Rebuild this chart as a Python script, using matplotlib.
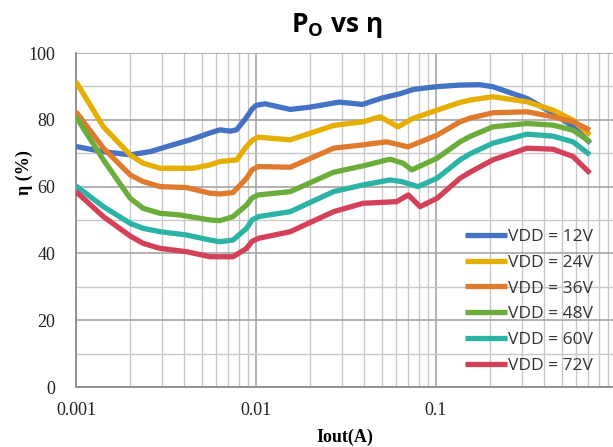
import matplotlib
matplotlib.use("Agg")
import matplotlib.pyplot as plt
from matplotlib.ticker import LogLocator, NullFormatter, MultipleLocator

# values (Iout in A, efficiency in %)
x_12v = [0.001, 0.0014, 0.002, 0.0026, 0.0033, 0.0043, 0.0055, 0.0063, 0.0072, 0.0078, 0.0088,
         0.0095, 0.0100, 0.0112, 0.0155, 0.020, 0.029, 0.039, 0.050, 0.063, 0.075, 0.10, 0.136, 0.175,
         0.207, 0.32, 0.45, 0.58, 0.72]
y_12v = [72, 70.5, 69.5, 70.5, 72.2, 74, 76, 77, 76.6, 77, 80.5, 83.2, 84.3, 84.8, 83.1, 83.8, 85.3,
         84.6, 86.5, 87.8, 89.1, 89.9, 90.4, 90.5, 89.9, 86.4, 81.9, 77.9, 73]

x_24v = [0.001, 0.00142, 0.002, 0.00236, 0.00293, 0.00449, 0.00555, 0.0063, 0.00782, 0.0087, 0.0095,
         0.0103, 0.0155, 0.027, 0.0393, 0.0489, 0.0615, 0.0745, 0.1014, 0.136, 0.1545, 0.207, 0.32,
         0.447, 0.577, 0.717]
y_24v = [91.4, 77.9, 69.5, 67, 65.5, 65.5, 66.5, 67.5, 68, 71.5, 73.8, 74.8, 74, 78.3, 79.4, 80.9,
         77.9, 80.4, 82.9, 85.2, 85.9, 86.9, 85.4, 82.9, 79.9, 75.4]

x_36v = [0.001, 0.00142, 0.002, 0.00236, 0.00293, 0.00412, 0.00555, 0.0063, 0.00745, 0.00887, 0.0095,
         0.0103, 0.0155, 0.027, 0.0393, 0.0532, 0.0699, 0.1014, 0.136, 0.1545, 0.207, 0.32, 0.447,
         0.577, 0.717]
y_36v = [82.4, 71.5, 63.5, 61.5, 60, 59.7, 58, 57.8, 58.2, 62.5, 65, 66, 65.8, 71.5, 72.5, 73.4,
         71.9, 75.4, 79.4, 80.5, 82.1, 82.4, 80.9, 79.4, 76.9]

x_48v = [0.001, 0.00142, 0.002, 0.00236, 0.00293, 0.00378, 0.00555, 0.0063, 0.00745, 0.00887, 0.0095,
         0.0103, 0.0155, 0.027, 0.0393, 0.0555, 0.0656, 0.0733, 0.1014, 0.136, 0.1545, 0.207, 0.32,
         0.447, 0.577, 0.717]
y_48v = [80.9, 68, 56.5, 53.5, 52, 51.5, 50, 49.8, 51, 54.5, 56.6, 57.5, 58.5, 64.3, 66.2, 68.2,
         67, 65, 68.5, 73.4, 75.0, 77.9, 78.9, 78.4, 76.9, 73.4]

x_60v = [0.001, 0.00142, 0.002, 0.00236, 0.00293, 0.00412, 0.00555, 0.0063, 0.00745, 0.00887, 0.0095,
         0.0103, 0.0155, 0.027, 0.0393, 0.0555, 0.0644, 0.0794, 0.1014, 0.136, 0.1545, 0.207, 0.32,
         0.447, 0.577, 0.717]
y_60v = [60.2, 54, 49, 47.5, 46.5, 45.5, 44, 43.5, 44, 47.5, 50, 51, 52.5, 58.5, 60.5, 62, 61.5,
         60, 62.5, 68, 69.8, 73, 75.7, 75.1, 73.4, 69.5]

x_72v = [0.001, 0.00142, 0.002, 0.00236, 0.00293, 0.00412, 0.00555, 0.0063, 0.00745, 0.00887, 0.0095,
         0.0103, 0.0155, 0.027, 0.0393, 0.0605, 0.0702, 0.0815, 0.1014, 0.136, 0.1545, 0.207, 0.32,
         0.447, 0.577, 0.717]
y_72v = [58.5, 51, 45.2, 43, 41.5, 40.5, 39, 39, 39, 41.5, 43.6, 44.5, 46.5, 52.5, 55, 55.5, 57.5,
         54, 56.5, 62.5, 64.3, 68, 71.5, 71.2, 69, 64]

labels = ["VDD = 12V", "VDD = 24V", "VDD = 36V", "VDD = 48V", "VDD = 60V", "VDD = 72V"]
colors = ["#4472C4", "#E5AE00", "#E07B2E", "#6BAD3B", "#2BB3A5", "#D43F5A"]
xticks = [0.001, 0.01, 0.1]
xtick_labels = ["0.001", "0.01", "0.1"]

plt.rcParams["mathtext.fontset"] = "custom"
plt.rcParams["mathtext.bf"] = "Open Sans:bold"
plt.rcParams["mathtext.rm"] = "Open Sans"

W, H = 613, 447
fig = plt.figure(figsize=(W / 100, H / 100), dpi=100)
ax = fig.add_axes([76 / W, (H - 387) / H, 1 - 76 / W, 334 / H])

series = [(x_12v, y_12v), (x_24v, y_24v), (x_36v, y_36v), (x_48v, y_48v), (x_60v, y_60v), (x_72v, y_72v)]
for (xs, ys), lab, c in zip(series, labels, colors):
    ax.plot(xs, ys, color=c, lw=3.8, label=lab, solid_joinstyle="round", solid_capstyle="butt", zorder=3)

ax.set_xscale("log")
ax.set_xlim(0.001, 10 ** (-3 + (W - 76) / 180))
ax.set_ylim(0, 100)
ax.set_xticks(xticks)
ax.set_xticklabels(xtick_labels)
ax.xaxis.set_minor_locator(LogLocator(base=10, subs=range(2, 10)))
ax.xaxis.set_minor_formatter(NullFormatter())
ax.yaxis.set_major_locator(MultipleLocator(20))
ax.yaxis.set_minor_locator(MultipleLocator(10))

ax.grid(which="major", color="#A6A6A6", lw=1.2, zorder=0)
ax.grid(which="minor", color="#C8C8C8", lw=1.0, zorder=0)
ax.set_axisbelow(True)

for s in ["top", "right"]:
    ax.spines[s].set_visible(False)
for s in ["left", "bottom"]:
    ax.spines[s].set_color("#8C8C8C")
    ax.spines[s].set_linewidth(1.3)

ax.tick_params(which="both", length=0)
ax.tick_params(axis="y", pad=15)
ax.tick_params(axis="x", pad=11)
for t in ax.get_xticklabels() + ax.get_yticklabels():
    t.set_fontfamily("Liberation Serif")
    t.set_fontsize(13)
    t.set_color("#222222")

fig.text(24 / W, 1 - 173 / H, "η (%)", rotation=90, ha="center", va="center",
         family="Liberation Serif", weight="bold", fontsize=13)
fig.text(345 / W, 1 - 437 / H, "Iout(A)", ha="center", va="center",
         family="Liberation Serif", weight="bold", fontsize=13)
fig.text(337 / W, 1 - 25 / H, r"$\mathbf{P_O}$ vs η", ha="center", va="center",
         family=["Open Sans", "DejaVu Sans"], weight="bold", fontsize=19)

leg = ax.legend(loc="upper left", bbox_to_anchor=(465 / W, 1 - 229 / H), bbox_transform=fig.transFigure,
                frameon=False, borderpad=0, borderaxespad=0, handlelength=2.4, handletextpad=0.1,
                labelspacing=0.55, prop={"family": "Open Sans", "size": 12.5})
for t in leg.get_texts():
    t.set_color("#333333")

fig.savefig("out.png", dpi=100)
